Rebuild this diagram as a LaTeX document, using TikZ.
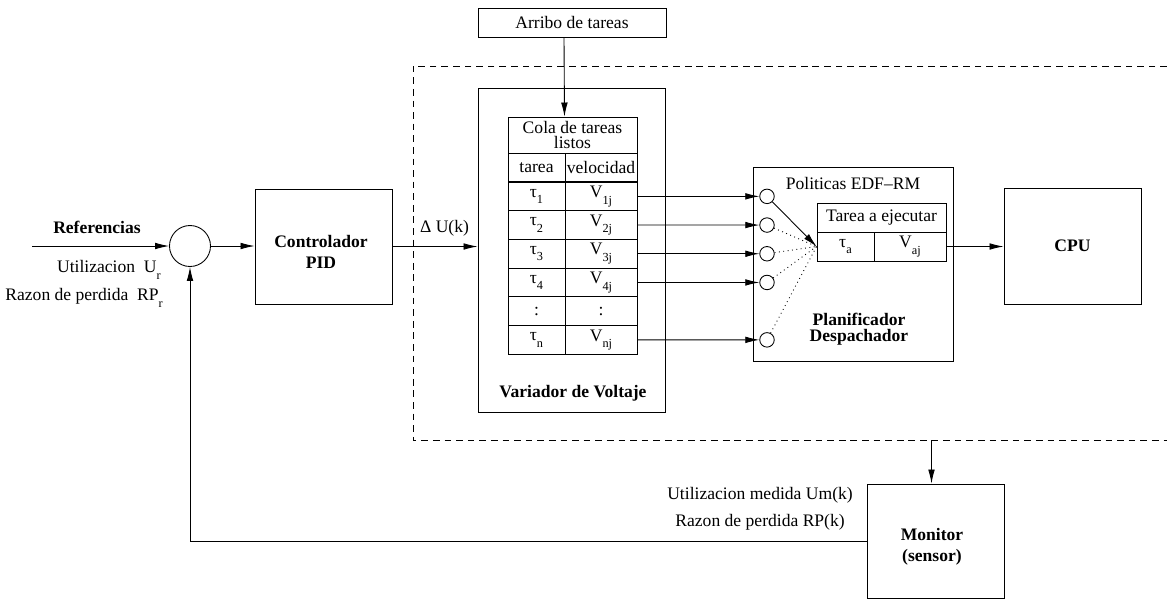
\documentclass[tikz,border=0pt]{standalone}
\usepackage{fontspec}
\setmainfont{Liberation Serif}
\usetikzlibrary{arrows.meta}
\usetikzlibrary{positioning}

\newcommand{\lowsub}[1]{\raisebox{-0.8ex}{\scriptsize #1}}

\tikzset{
  flecha/.style={-{Latex[length=8pt,width=3.8pt]}},
  caja/.style={draw, inner sep=0pt, align=center},
  celda/.style={draw, inner sep=0pt, minimum height=0.574cm},
  puerto/.style={draw, circle, inner sep=0pt, minimum size=0.29cm},
}

\begin{document}
\begin{tikzpicture}[x=0.02cm, y=-0.02cm, line width=0.5pt, font=\fontsize{10}{12}\selectfont]
      \useasboundingbox (0,0) rectangle (1167,599);

      % Define corners of the dashed region
      \coordinate (dnw) at (413,66);
      \coordinate (dsw) at (413,440);
      \coordinate (dne) at (1167,66);
      \coordinate (dse) at (1167,440);
      \draw[dash pattern=on 3.8pt off 2.8pt] (dne) -- (dnw) -- (dsw) -- (dse);

      % Main blocks
      \node[caja, minimum width=3.76cm, minimum height=0.58cm] (arribo) at (572,22.5) {Arribo de tareas};
      \node[caja, minimum width=3.74cm, minimum height=6.48cm] (var) at (571.5,250) {};
      \node[font=\bfseries] (vartxt) at (573,393) {Variador de Voltaje};
      \node[caja, minimum width=2.74cm, minimum height=2.3cm] (pid) at (323.5,246.5) {};
      \node[font=\bfseries, align=center] (pidtxt) at (321,252) {Controlador\\PID};
      \node[caja, minimum width=4cm, minimum height=3.88cm] (plan) at (853,264) {};
      \node[font=\fontsize{10}{9}\selectfont\bfseries, align=center] (plantxt) at (859,329) {Planificador\\Despachador};
      \node (pol) at (853,183) {Politicas EDF–RM};
      \node[caja, font=\bfseries, minimum width=2.74cm, minimum height=2.32cm] (cpu) at (1072.5,246) {CPU};
      \node[caja, minimum width=2.74cm, minimum height=2.28cm] (mon) at (935.5,541) {};
      \node[font=\bfseries, align=center] (montxt) at (932,547) {Monitor\\(sensor)};
      \node[puerto, minimum size=0.82cm] (sum) at (190,246) {};

      % Ready queue table
      \node[caja, font=\fontsize{10}{9}\selectfont, minimum width=2.58cm, minimum height=0.72cm] (cola) at (572.5,135) {Cola de tareas\\listos};
      \node[celda, minimum width=1.14cm] (th) at (536.5,167.5) {tarea};
      \node[celda, minimum width=1.44cm] (vh) at (601,167.5) {velocidad};
      \foreach \tname/\vname [count=\i] in {τ\lowsub{1}/V\lowsub{1j}, τ\lowsub{2}/V\lowsub{2j},
          τ\lowsub{3}/V\lowsub{3j}, τ\lowsub{4}/V\lowsub{4j}, :/:, τ\lowsub{n}/V\lowsub{nj}} {
        \node[celda, minimum width=1.14cm] (t\i) at (536.5,{182+28.7*(\i-0.5)}) {\tname};
        \node[celda, minimum width=1.44cm] (v\i) at (601,{182+28.7*(\i-0.5)}) {\vname};
      }

      % Task to run
      \node[celda, minimum width=2.58cm, minimum height=0.58cm] (tej) at (881.5,217.5) {Tarea a ejecutar};
      \node[celda, minimum width=1.14cm, minimum height=0.58cm] (ta) at (845.5,246.5) {τ\lowsub{a}};
      \node[celda, minimum width=1.44cm, minimum height=0.58cm] (va) at (910,246.5) {V\lowsub{aj}};

      % Scheduler inputs
      \foreach \k/\yy in {1/196.35, 2/225.05, 3/253.75, 4/282.45, 5/339.85}
        \node[puerto] (c\k) at (767,\yy) {};
      \foreach \i/\k in {1/1, 2/2, 3/3, 4/4, 6/5}
        \draw[flecha] (v\i.east) -- (c\k);
      \draw[flecha] (c1) -- (ta.west);
      \foreach \k in {2,3,4,5}
        \draw[dotted] (c\k) -- (ta.west);

      % Loop connections
      \coordinate (entrada) at (32,246);
      \draw[flecha] (entrada) -- (sum.west);
      \draw[flecha] (sum.east) -- (sum.east -| pid.west);
      \draw[flecha] (pid.east) -- (pid.east -| var.west);
      \draw[flecha] ([xshift=-0.16cm]arribo.south) -- ([xshift=-0.16cm]cola.north);
      \draw[flecha] (va.east) -- (va.east -| cpu.west);
      \draw[flecha] ([xshift=-0.08cm]mon.north |- dsw) -- ([xshift=-0.08cm]mon.north);
      \draw[flecha] (mon.west) -| (sum.south);

      % Signal labels
      \node[font=\bfseries] (ref) at (97,227) {Referencias};
      \node[anchor=east] (ur) at (167,270) {Utilizacion~~U\lowsub{r}};
      \node[anchor=east] (rpr) at (169,298) {Razon de perdida~~RP\lowsub{r}};
      \node (du) at (444.5,228) {Δ U(k)};
      \node[anchor=east] (um) at (859,495) {Utilizacion medida Um(k)};
      \node[anchor=east] (rpk) at (851,522) {Razon de perdida RP(k)};
    \end{tikzpicture}
\end{document}
